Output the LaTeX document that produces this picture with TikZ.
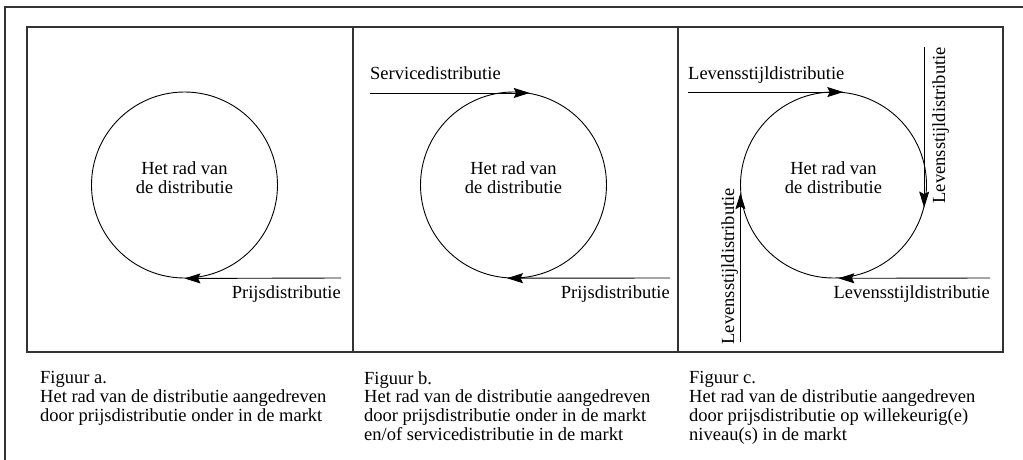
\documentclass[tikz,border=0pt]{standalone}
\usepackage{fontspec}
\setmainfont{Liberation Serif}
\usetikzlibrary{arrows.meta}
\begin{document}
\begin{tikzpicture}[x=1pt,y=-1pt,
  frame/.style={draw=black!80, line width=1.1pt},
  wheel/.style={circle, draw, line width=0.9pt, minimum size=186pt, inner sep=0pt},
  feed/.style={draw, line width=0.9pt, -{Stealth[length=16pt,width=10pt,inset=2.5pt]}},
  txt/.style={inner sep=0pt, font=\fontsize{18.5}{18.9}\selectfont},
  caption text/.style={txt, align=left, anchor=north west}
]
\useasboundingbox (0,0) rectangle (1023,460);

% outer frame (left and top edges)
\draw[frame] (5,460) -- (5,7) -- (1023,7);

% three panels
\draw[frame] (27,27) rectangle (1003,352);
\draw[frame] (353,27) -- (353,352);
\draw[frame] (678,27) -- (678,352);

% ---- panel a ----
\node[wheel] (wa) at (184.5,185) {};
\node[txt, align=center] (ta) at ([yshift=7.5pt]wa.center) {Het rad van\\de distributie};
\coordinate (pa) at (341,278);
\draw[feed] (pa) -- (wa.south);
\node[txt, anchor=base east] (la) at (341,298) {Prijsdistributie};

% ---- panel b ----
\node[wheel] (wb) at (513.5,185) {};
\node[txt, align=center] (tb) at ([yshift=7.5pt]wb.center) {Het rad van\\de distributie};
\coordinate (sb) at (wb.80 -| 370,0);
\draw[feed] (sb) -- (wb.80);
\node[txt, anchor=base west] (lsb) at (370,80) {Servicedistributie};
\coordinate (pb) at (670,278);
\draw[feed] (pb) -- (wb.-94);
\node[txt, anchor=base east] (lpb) at (670,298) {Prijsdistributie};

% ---- panel c ----
\node[wheel] (wc) at (833.5,185) {};
\node[txt, align=center] (tc) at ([yshift=7.5pt]wc.center) {Het rad van\\de distributie};
\coordinate (c1) at (wc.84 -| 688,0);
\draw[feed] (c1) -- (wc.84);
\node[txt, anchor=base west] (lc1) at (688,80) {Levensstijldistributie};
\coordinate (c2) at (wc.-14 |- 0,47);
\draw[feed] (c2) -- (wc.-14);
\node[txt, rotate=90, anchor=base east] (lc2) at (945,47) {Levensstijldistributie};
\coordinate (c3) at (990,278);
\draw[feed] (c3) -- (wc.-87);
\node[txt, anchor=base east] (lc3) at (990,298) {Levensstijldistributie};
\coordinate (c4) at (wc.185 |- 0,342);
\draw[feed] (c4) -- (wc.185);
\node[txt, rotate=90, anchor=base east] (lc4) at (734,188) {Levensstijldistributie};

% ---- captions ----
\node[caption text] (ca) at (40,371) {Figuur a.\\Het rad van de distributie aangedreven\\door prijsdistributie onder in de markt};
\node[caption text] (cb) at (364,371) {Figuur b.\\Het rad van de distributie aangedreven\\door prijsdistributie onder in de markt\\en/of servicedistributie in de markt};
\node[caption text] (cc) at (689,371) {Figuur c.\\Het rad van de distributie aangedreven\\door prijsdistributie op willekeurig(e)\\niveau(s) in de markt};
\end{tikzpicture}
\end{document}
